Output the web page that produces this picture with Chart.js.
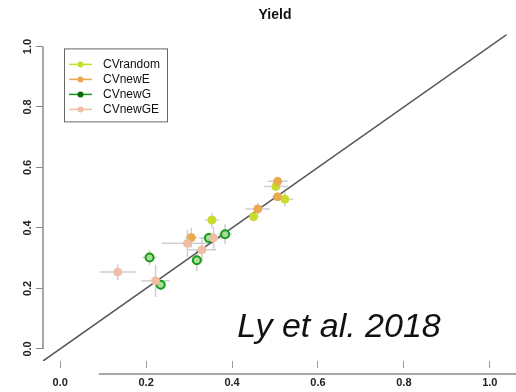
<!DOCTYPE html>
<html>
<head>
<meta charset="utf-8">
<script src="https://cdn.jsdelivr.net/npm/chart.js@4.4.1/dist/chart.umd.min.js"></script>
<style>
  html, body { margin: 0; padding: 0; background: #fff; }
  #wrap { width: 516px; height: 392px; }
</style>
</head>
<body>
<div id="wrap"><canvas id="chart" width="516" height="392"></canvas></div>
<script>
const seriesNames = ["CVrandom", "CVnewE", "CVnewG", "CVnewGE"];

const randomX = [0.502, 0.523, 0.450, 0.353];
const randomY = [0.537, 0.495, 0.437, 0.426];
const randomXErr = [0.028, 0.019, 0.012, 0.016];
const randomYErr = [0.010, 0.023, 0.010, 0.025];

const newEX = [0.506, 0.506, 0.460, 0.305];
const newEY = [0.554, 0.503, 0.463, 0.368];
const newEXErr = [0.023, 0.012, 0.028, 0.014];
const newEYErr = [0.010, 0.013, 0.020, 0.033];

const newGX = [0.346, 0.384, 0.208, 0.318, 0.234];
const newGY = [0.367, 0.379, 0.302, 0.293, 0.212];
const newGXErr = [0.023, 0.016, 0.017, 0.012, 0.009];
const newGYErr = [0.017, 0.033, 0.025, 0.036, 0.017];

const newGEX = [0.357, 0.296, 0.330, 0.134, 0.222];
const newGEY = [0.367, 0.349, 0.328, 0.254, 0.225];
const newGEXErr = [0.023, 0.060, 0.033, 0.042, 0.033];
const newGEYErr = [0.036, 0.046, 0.040, 0.026, 0.053];

const diagX = [-0.04, 1.04];
const xTicks = [0, 0.2, 0.4, 0.6, 0.8, 1.0];
const yTicks = [0, 0.2, 0.4, 0.6, 0.8, 1.0];

const colors = ["#c9dc2c", "#e9a94f", "#169c16", "#f0bda5"];
const fills = ["#c9dc2c", "#e9a94f", "#a8dc9c", "#f0bda5"];

const toPoints = (xs, ys) => xs.map((x, i) => ({ x, y: ys[i] }));

const series = [
  [randomX, randomY, randomXErr, randomYErr],
  [newEX, newEY, newEXErr, newEYErr],
  [newGX, newGY, newGXErr, newGYErr],
  [newGEX, newGEY, newGEXErr, newGEYErr]
];

const datasets = series.map((s, i) => ({
  type: "scatter",
  label: seriesNames[i],
  data: toPoints(s[0], s[1]),
  xErr: s[2],
  yErr: s[3],
  pointRadius: 4,
  pointBorderWidth: i === 2 ? 2 : 1,
  pointBackgroundColor: fills[i],
  pointBorderColor: colors[i],
  order: 4 - i
}));

// 1:1 line
datasets.push({
  type: "line",
  label: "diag",
  data: toPoints(diagX, diagX),
  borderColor: "#555",
  borderWidth: 1.5,
  pointRadius: 0,
  order: 10
});

const errorBars = {
  id: "errorBars",
  beforeDatasetsDraw(chart) {
    const { ctx, scales: { x, y } } = chart;
    ctx.save();
    ctx.strokeStyle = "#cfcfcf";
    ctx.lineWidth = 1.5;
    chart.data.datasets.forEach(ds => {
      if (!ds.xErr) return;
      ds.data.forEach((p, i) => {
        const px = x.getPixelForValue(p.x), py = y.getPixelForValue(p.y);
        ctx.beginPath();
        ctx.moveTo(x.getPixelForValue(p.x - ds.xErr[i]), py);
        ctx.lineTo(x.getPixelForValue(p.x + ds.xErr[i]), py);
        ctx.moveTo(px, y.getPixelForValue(p.y - ds.yErr[i]));
        ctx.lineTo(px, y.getPixelForValue(p.y + ds.yErr[i]));
        ctx.stroke();
      });
    });
    ctx.restore();
  }
};

const decorations = {
  id: "decorations",
  afterDraw(chart) {
    const { ctx, chartArea, scales: { x, y } } = chart;
    ctx.save();
    // y axis line, only over 0..1
    ctx.strokeStyle = "#888";
    ctx.lineWidth = 1.5;
    ctx.beginPath();
    ctx.moveTo(chartArea.left, y.getPixelForValue(0));
    ctx.lineTo(chartArea.left, y.getPixelForValue(1));
    ctx.stroke();
    // stray horizontal line under the x ticks
    ctx.beginPath();
    ctx.moveTo(x.getPixelForValue(0.09), chartArea.bottom + 13);
    ctx.lineTo(chart.width, chartArea.bottom + 13);
    ctx.stroke();

    // legend box
    const lx = chartArea.left + 21, ly = chartArea.top + 14;
    ctx.strokeStyle = "#666";
    ctx.lineWidth = 1;
    ctx.strokeRect(lx + 0.5, ly + 0.5, 103, 73);
    ctx.font = "12px 'Liberation Sans', Arial, sans-serif";
    ctx.textBaseline = "middle";
    ctx.fillStyle = "#111";
    seriesNames.forEach((name, i) => {
      const ry = ly + 16 + i * 15;
      ctx.strokeStyle = colors[i];
      ctx.lineWidth = 1.5;
      ctx.beginPath();
      ctx.moveTo(lx + 5, ry);
      ctx.lineTo(lx + 28, ry);
      ctx.stroke();
      ctx.beginPath();
      ctx.arc(lx + 16.5, ry, 3, 0, Math.PI * 2);
      ctx.fillStyle = i === 2 ? "#0a6a0a" : colors[i];
      ctx.fill();
      ctx.fillStyle = "#111";
      ctx.fillText(name, lx + 39, ry + 0.5);
    });

    // citation
    ctx.font = "italic 34px 'Liberation Sans', Arial, sans-serif";
    ctx.textBaseline = "alphabetic";
    ctx.fillStyle = "#111";
    ctx.fillText("Ly et al. 2018", x.getPixelForValue(0.412), y.getPixelForValue(0.04));
    ctx.restore();
  }
};

new Chart(document.getElementById("chart"), {
  data: { datasets },
  plugins: [errorBars, decorations],
  options: {
    responsive: false,
    animation: false,
    layout: { padding: { left: 0, right: 9, top: 0, bottom: 0 } },
    plugins: {
      legend: { display: false },
      tooltip: { enabled: false },
      title: {
        display: true,
        text: "Yield",
        fullSize: false,
        color: "#111",
        font: { family: "'Liberation Sans', Arial, sans-serif", size: 14, weight: "bold" },
        padding: { top: 7, bottom: 10.6 }
      }
    },
    scales: {
      x: {
        type: "linear",
        min: -0.04,
        max: 1.04,
        border: { display: false },
        grid: { drawOnChartArea: false, tickLength: 7, color: "#999", lineWidth: 1 },
        afterBuildTicks: s => { s.ticks = xTicks.map(v => ({ value: v })); },
        afterFit: s => { s.height = 31; },
        ticks: {
          padding: 8,
          maxRotation: 0,
          color: "#222",
          font: { family: "'Liberation Sans', Arial, sans-serif", size: 11, weight: "bold" },
          callback: v => v.toFixed(1)
        }
      },
      y: {
        type: "linear",
        min: -0.04,
        max: 1.04,
        border: { display: false },
        grid: { drawOnChartArea: false, tickLength: 7, color: "#888", lineWidth: 1 },
        afterBuildTicks: s => { s.ticks = yTicks.map(v => ({ value: v })); },
        afterFit: s => { s.width = 43; },
        ticks: {
          padding: 0,
          minRotation: 90,
          maxRotation: 90,
          crossAlign: "center",
          color: "#222",
          font: { family: "'Liberation Sans', Arial, sans-serif", size: 11, weight: "bold" },
          callback: v => v.toFixed(1)
        }
      }
    }
  }
});
</script>
</body>
</html>
